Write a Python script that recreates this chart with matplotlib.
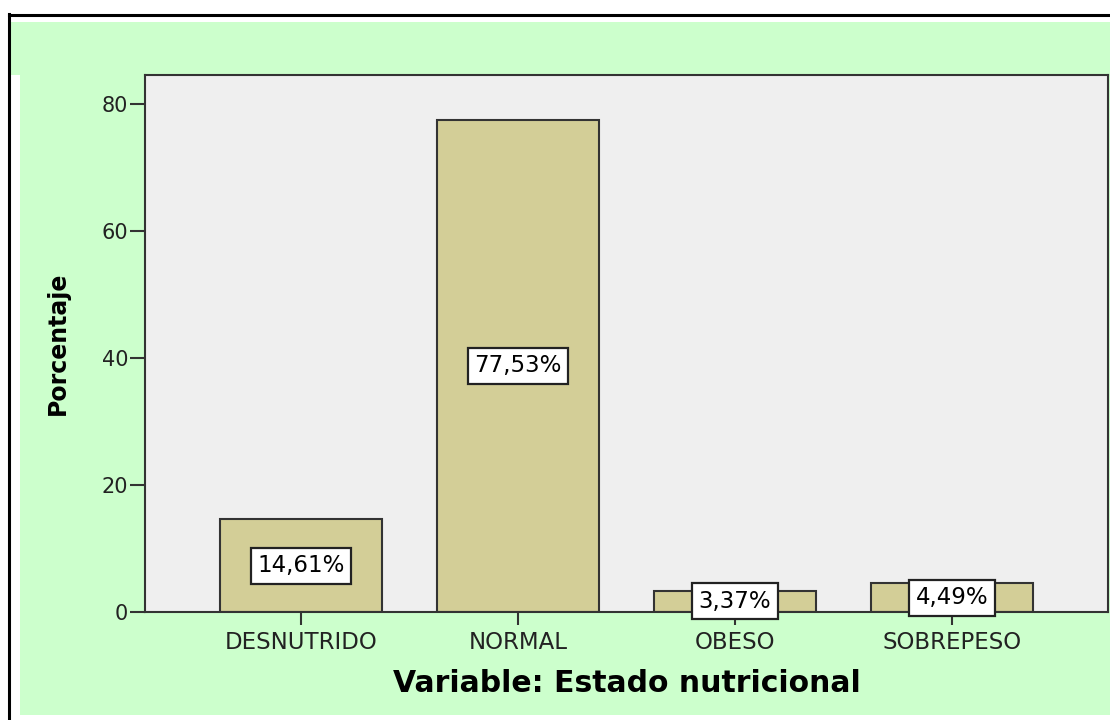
import matplotlib
matplotlib.use('Agg')
import matplotlib.pyplot as plt
from matplotlib.patches import Rectangle
from matplotlib.lines import Line2D

categorias = ['DESNUTRIDO', 'NORMAL', 'OBESO', 'SOBREPESO']
porcentajes = [14.61, 77.53, 3.37, 4.49]
etiquetas = ['14,61%', '77,53%', '3,37%', '4,49%']
yticks = [0, 20, 40, 60, 80]

W, H = 1110, 720
fig = plt.figure(figsize=(W / 100, H / 100), dpi=100)
fig.patch.set_facecolor('white')

verde = '#CCFFCC'


def px_rect(x0, y0, x1, y1, **kw):
    # rectangle given in pixel coords from top-left
    return Rectangle((x0 / W, 1 - y1 / H), (x1 - x0) / W, (y1 - y0) / H,
                     transform=fig.transFigure, **kw)


# green background: top band and main region
fig.patches.append(px_rect(10, 22, 1110, 75, facecolor=verde, edgecolor='none', zorder=-2))
fig.patches.append(px_rect(20, 75, 1110, 715, facecolor=verde, edgecolor='none', zorder=-2))
# black frame (left and top)
fig.lines.append(Line2D([8.5 / W, 8.5 / W], [1 - 14 / H, 0], transform=fig.transFigure,
                        color='black', lw=2.2, zorder=-1))
fig.lines.append(Line2D([8.5 / W, 1], [1 - 14.5 / H, 1 - 14.5 / H], transform=fig.transFigure,
                        color='black', lw=2.2, zorder=-1))

ax = fig.add_axes([145 / W, 1 - 612 / H, (1108 - 145) / W, (612 - 75) / H])
ax.set_facecolor('#EFEFEF')

x = range(len(categorias))
ax.bar(x, porcentajes, width=0.75, color='#D3CE97', edgecolor='#333333', linewidth=1.5, zorder=2)

for xi, v, lab in zip(x, porcentajes, etiquetas):
    ax.text(xi, v / 2, lab, ha='center', va='center', fontsize=16.5, color='black',
            zorder=5, clip_on=False,
            bbox=dict(boxstyle='square,pad=0.28', facecolor='white', edgecolor='#222222',
                      linewidth=1.6))

ax.set_xlim(-0.72, 3.72)
ax.set_ylim(0, 84.6)
ax.set_yticks(yticks)
ax.set_xticks(list(x))
ax.set_xticklabels(categorias, fontsize=16.5, color='#222222')
ax.tick_params(axis='y', labelsize=15, length=10.5, width=1.5, pad=1.5,
               color='#333333', labelcolor='#222222')
ax.tick_params(axis='x', length=9, width=1.5, pad=5, color='#333333')

for s in ax.spines.values():
    s.set_color('#333333')
    s.set_linewidth(1.5)

ax.set_xlabel('Variable: Estado nutricional', fontsize=21.5, fontweight='bold', va='center')
ax.xaxis.set_label_coords(0.5, -(683 - 612) / 537)
ax.set_ylabel('Porcentaje', fontsize=17, fontweight='bold', va='center')
ax.yaxis.set_label_coords(-(145 - 58) / 963, 0.5)

fig.savefig('out.png', dpi=100)
